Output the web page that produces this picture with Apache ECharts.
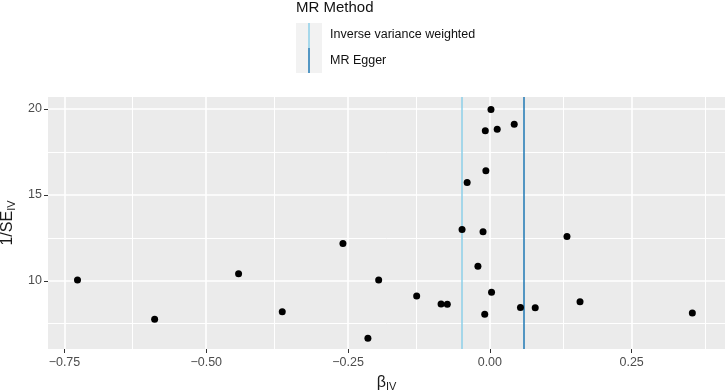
<!DOCTYPE html>
<html><head><meta charset="utf-8">
<script src="https://cdn.jsdelivr.net/npm/echarts@6/dist/echarts.min.js"></script>
<style>html,body{margin:0;padding:0;background:#fff}#c{width:726px;height:390px}</style>
</head><body><div id="c"></div>
<script>
const betaIV = [-0.727,-0.591,-0.443,-0.366,-0.259,-0.196,-0.215,-0.129,-0.086,-0.075,-0.049,-0.040,-0.008,-0.007,-0.012,-0.021,-0.009,0.002,0.013,0.043,0.003,0.054,0.080,0.136,0.159,0.357];
const invSE = [10.04,7.76,10.41,8.20,12.17,10.04,6.65,9.11,8.65,8.63,12.99,15.72,18.74,16.40,12.85,10.84,8.05,19.97,18.82,19.11,9.34,8.45,8.43,12.58,8.78,8.12];
const methods = ['Inverse variance weighted','MR Egger'];
const methodBeta = [-0.0534, 0.0623];
const methodColors = ['#8ccfe9','#1f78b4'];
const xTicks = [-0.75,-0.5,-0.25,0,0.25];
const xMinor = [-0.625,-0.375,-0.125,0.125,0.375];
const yTicks = [10,15,20];
const yMinor = [7.5,12.5,17.5];
const xRange = [-0.779, 0.4146];
const yRange = [6.03, 20.70];

const FONT = 'Liberation Sans, Arial, sans-serif';
const chart = echarts.init(document.getElementById('c'));
const fmtX = v => { if (Math.abs(v) < 1e-9) return '0.00'; return (v<0?'\u2212':'') + Math.abs(v).toFixed(2); };
const gridPos = {left:48, right:1, top:97, bottom:41};
const minorStyle = {color:'#ffffff', width:1, type:'solid', opacity:1};
const lines = [
  ...xMinor.map(v => ({xAxis:v, lineStyle:minorStyle})),
  ...yMinor.map(v => ({yAxis:v, lineStyle:minorStyle})),
  ...methodBeta.map((v,i)=>({xAxis:v, lineStyle:{color:methodColors[i], width:1.5, type:'solid', opacity:1}}))
];
chart.setOption({
  animation:false,
  backgroundColor:'#fff',
  grid:{...gridPos, backgroundColor:'#EBEBEB', show:true, borderWidth:0, containLabel:false, outerBoundsMode:'none'},
  xAxis:[{
    type:'value', min:xRange[0], max:xRange[1],
    name:'{b|β}{s|IV}', nameLocation:'middle', nameGap:24,
    nameTextStyle:{rich:{b:{fontSize:16,fontFamily:FONT,color:'#1a1a1a'}, s:{fontSize:11,fontFamily:FONT,color:'#1a1a1a',padding:[8,0,0,0]}}},
    axisLine:{show:false, onZero:false},
    axisTick:{show:true, customValues:xTicks, length:4, lineStyle:{color:'#333',width:1}},
    axisLabel:{customValues:xTicks, formatter:fmtX, color:'#4d4d4d', fontSize:12.5, fontFamily:FONT, margin:7},
    splitLine:{show:true, lineStyle:{color:'#fff', width:1.6}}
  }],
  yAxis:[{
    type:'value', min:yRange[0], max:yRange[1],
    name:'{a|1/SE}{s|IV}', nameLocation:'middle', nameGap:20, nameRotate:90,
    nameTextStyle:{rich:{a:{fontSize:16,fontFamily:FONT,color:'#1a1a1a'}, s:{fontSize:11,fontFamily:FONT,color:'#1a1a1a',padding:[8,0,0,0]}}},
    axisLine:{show:false, onZero:false},
    axisTick:{show:true, customValues:yTicks, length:4, lineStyle:{color:'#333',width:1}},
    axisLabel:{customValues:yTicks, color:'#4d4d4d', fontSize:12.5, fontFamily:FONT, margin:6},
    splitLine:{show:true, lineStyle:{color:'#fff', width:1.6}}
  }],
  series:[{
    type:'scatter', xAxisIndex:0, yAxisIndex:0,
    data: betaIV.map((b,i)=>[b, invSE[i]]),
    symbolSize:7, itemStyle:{color:'#000', opacity:1}, z:3,
    markLine:{
      silent:true, z:1, symbol:['none','none'], label:{show:false},
      emphasis:{disabled:true},
      data: lines
    }
  }],
  graphic:[
    {type:'text', left:296, top:0, style:{text:'MR Method', fontSize:15, fontFamily:FONT, fill:'#111'}},
    {type:'rect', shape:{x:296,y:23,width:26,height:50}, style:{fill:'#f2f2f2'}},
    {type:'line', shape:{x1:309,y1:23,x2:309,y2:48}, style:{stroke:methodColors[0], lineWidth:1.5}},
    {type:'line', shape:{x1:309,y1:48,x2:309,y2:73}, style:{stroke:methodColors[1], lineWidth:1.5}},
    {type:'text', left:330, top:28, style:{text:methods[0], fontSize:12.5, fontFamily:FONT, fill:'#111'}},
    {type:'text', left:330, top:54, style:{text:methods[1], fontSize:12.5, fontFamily:FONT, fill:'#111'}}
  ]
});
</script></body></html>
